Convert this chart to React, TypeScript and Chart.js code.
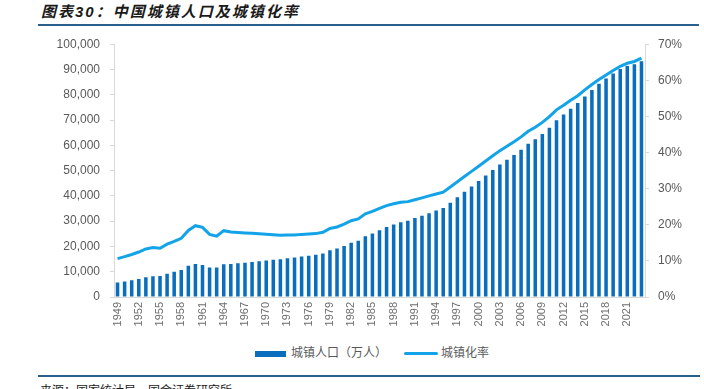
import React, { useEffect, useRef } from "react";
import { Chart, registerables } from "chart.js";

Chart.register(...registerables);

const years = [
  "1949", "1950", "1951", "1952", "1953", "1954", "1955", "1956", "1957", "1958",
  "1959", "1960", "1961", "1962", "1963", "1964", "1965", "1966", "1967", "1968",
  "1969", "1970", "1971", "1972", "1973", "1974", "1975", "1976", "1977", "1978",
  "1979", "1980", "1981", "1982", "1983", "1984", "1985", "1986", "1987", "1988",
  "1989", "1990", "1991", "1992", "1993", "1994", "1995", "1996", "1997", "1998",
  "1999", "2000", "2001", "2002", "2003", "2004", "2005", "2006", "2007", "2008",
  "2009", "2010", "2011", "2012", "2013", "2014", "2015", "2016", "2017", "2018",
  "2019", "2020", "2021", "2022", "2023",
];

// 城镇人口（万人）
const urbanPopulation = [
  5765, 6169, 6632, 7163, 7826, 8249, 8285, 9185, 9949, 10721,
  12371, 13073, 12707, 11659, 11646, 12950, 13045, 13313, 13548, 13838,
  14117, 14424, 14711, 14935, 15345, 15595, 16030, 16341, 16669, 17245,
  18495, 19140, 20171, 21480, 22274, 24017, 25094, 26366, 27674, 28661,
  29540, 30195, 31203, 32175, 33173, 34169, 35174, 37304, 39449, 41608,
  43748, 45906, 48064, 50212, 52376, 54283, 56212, 58288, 60633, 62403,
  64512, 66978, 69927, 72175, 74502, 76738, 79302, 81924, 84343, 86433,
  88426, 90220, 91425, 92071, 93267,
];

// 城镇化率（%）
const urbanizationRate = [
  10.64, 11.18, 11.78, 12.46, 13.31, 13.69, 13.48, 14.62, 15.39, 16.25,
  18.41, 19.75, 19.29, 17.33, 16.84, 18.37, 17.98, 17.86, 17.74, 17.62,
  17.5, 17.38, 17.26, 17.13, 17.2, 17.16, 17.34, 17.44, 17.55, 17.92,
  18.96, 19.39, 20.16, 21.13, 21.62, 23.01, 23.71, 24.52, 25.32, 25.81,
  26.21, 26.41, 26.94, 27.46, 27.99, 28.51, 29.04, 30.48, 31.91, 33.35,
  34.78, 36.22, 37.66, 39.09, 40.53, 41.76, 42.99, 44.34, 45.89, 46.99,
  48.34, 49.95, 51.83, 53.1, 54.49, 55.75, 57.33, 58.84, 60.24, 61.5,
  62.71, 63.89, 64.72, 65.22, 66.16,
];

const leftTicks = { min: 0, max: 100000, step: 10000 };
const rightTicks = { min: 0, max: 70, step: 10 };

const BAR_COLOR = "#0A6EBD";
const LINE_COLOR = "#12A3E8";
const TEXT_COLOR = "#595959";
const XTEXT_COLOR = "#6E6E6E";
const AXIS_COLOR = "#D9D9D9";
const RULE_COLOR = "#2B5F8C";
const LATIN = "'Liberation Sans', Arial, sans-serif";
const CJK = "'Liberation Sans', 'Noto Sans CJK SC', sans-serif";

export default function App() {
  const canvasRef = useRef<HTMLCanvasElement | null>(null);

  useEffect(() => {
    if (!canvasRef.current) return;
    const chart = new Chart(canvasRef.current, {
      type: "bar",
      data: {
        labels: years,
        datasets: [
          {
            type: "line",
            label: "城镇化率",
            data: urbanizationRate,
            yAxisID: "y1",
            borderColor: LINE_COLOR,
            backgroundColor: LINE_COLOR,
            borderWidth: 3,
            pointRadius: 0,
            tension: 0,
            order: 0,
          },
          {
            type: "bar",
            label: "城镇人口（万人）",
            data: urbanPopulation,
            yAxisID: "y",
            backgroundColor: BAR_COLOR,
            categoryPercentage: 1,
            barPercentage: 0.5,
            order: 1,
          },
        ],
      },
      options: {
        animation: false,
        responsive: false,
        maintainAspectRatio: false,
        layout: { padding: { top: 12, left: 0, right: 0, bottom: 0 } },
        plugins: {
          legend: { display: false },
          tooltip: { enabled: false },
        },
        scales: {
          x: {
            offset: true,
            grid: { display: false, drawTicks: false },
            border: { display: true, color: AXIS_COLOR, width: 1 },
            ticks: {
              autoSkip: false,
              maxRotation: 90,
              minRotation: 90,
              padding: 5,
              color: XTEXT_COLOR,
              font: { family: LATIN, size: 11 },
              callback: (_v: any, i: number) => (i % 3 === 0 ? years[i] : ""),
            },
            afterFit: (s: any) => {
              s.height = 43;
            },
          },
          y: {
            position: "left",
            min: leftTicks.min,
            max: leftTicks.max,
            grid: { drawOnChartArea: false, drawTicks: true, tickLength: 4, color: AXIS_COLOR },
            border: { display: true, color: AXIS_COLOR, width: 1 },
            ticks: {
              stepSize: leftTicks.step,
              padding: 10,
              color: TEXT_COLOR,
              font: { family: LATIN, size: 12 },
              callback: (v: any) => Number(v).toLocaleString("en-US"),
            },
            afterFit: (s: any) => {
              s.width = 114;
            },
          },
          y1: {
            position: "right",
            min: rightTicks.min,
            max: rightTicks.max,
            grid: { drawOnChartArea: false, drawTicks: true, tickLength: 4, color: AXIS_COLOR },
            border: { display: true, color: AXIS_COLOR, width: 1 },
            ticks: {
              stepSize: rightTicks.step,
              padding: 9,
              color: TEXT_COLOR,
              font: { family: LATIN, size: 12 },
              callback: (v: any) => `${v}%`,
            },
            afterFit: (s: any) => {
              s.width = 59;
            },
          },
        },
      },
    });
    return () => chart.destroy();
  }, []);

  return (
    <div
      style={{
        position: "fixed",
        left: 0,
        top: 0,
        width: 704,
        height: 389,
        background: "#fff",
        overflow: "hidden",
      }}
    >
      <div
        style={{
          position: "absolute",
          left: 41,
          top: 3,
          fontFamily: CJK,
          fontSize: 15,
          fontWeight: "bold",
          fontStyle: "italic",
          letterSpacing: 2,
          color: "#1A1A1A",
          lineHeight: "18px",
          whiteSpace: "nowrap",
        }}
      >
        图表30：中国城镇人口及城镇化率
      </div>
      <div
        style={{
          position: "absolute",
          left: 38,
          top: 24,
          width: 661,
          height: 2,
          background: RULE_COLOR,
        }}
      />
      <canvas
        ref={canvasRef}
        width={704}
        height={313}
        style={{ position: "absolute", left: 0, top: 27, width: 704, height: 313 }}
      />
      <div
        style={{
          position: "absolute",
          left: 255,
          top: 351,
          width: 31,
          height: 6,
          background: BAR_COLOR,
        }}
      />
      <div
        style={{
          position: "absolute",
          left: 291,
          top: 345,
          fontFamily: CJK,
          fontSize: 12,
          color: TEXT_COLOR,
          lineHeight: "16px",
          whiteSpace: "nowrap",
        }}
      >
        城镇人口（万人）
      </div>
      <div
        style={{
          position: "absolute",
          left: 404,
          top: 352,
          width: 34,
          height: 3,
          borderRadius: 2,
          background: LINE_COLOR,
        }}
      />
      <div
        style={{
          position: "absolute",
          left: 441,
          top: 345,
          fontFamily: CJK,
          fontSize: 12,
          color: TEXT_COLOR,
          lineHeight: "16px",
          whiteSpace: "nowrap",
        }}
      >
        城镇化率
      </div>
      <div
        style={{
          position: "absolute",
          left: 38,
          top: 375,
          width: 662,
          height: 2,
          background: RULE_COLOR,
        }}
      />
      <div
        style={{
          position: "absolute",
          left: 40,
          top: 383,
          fontFamily: CJK,
          fontSize: 12,
          color: "#1A1A1A",
          lineHeight: "16px",
          whiteSpace: "nowrap",
        }}
      >
        来源：国家统计局，国金证券研究所
      </div>
    </div>
  );
}
